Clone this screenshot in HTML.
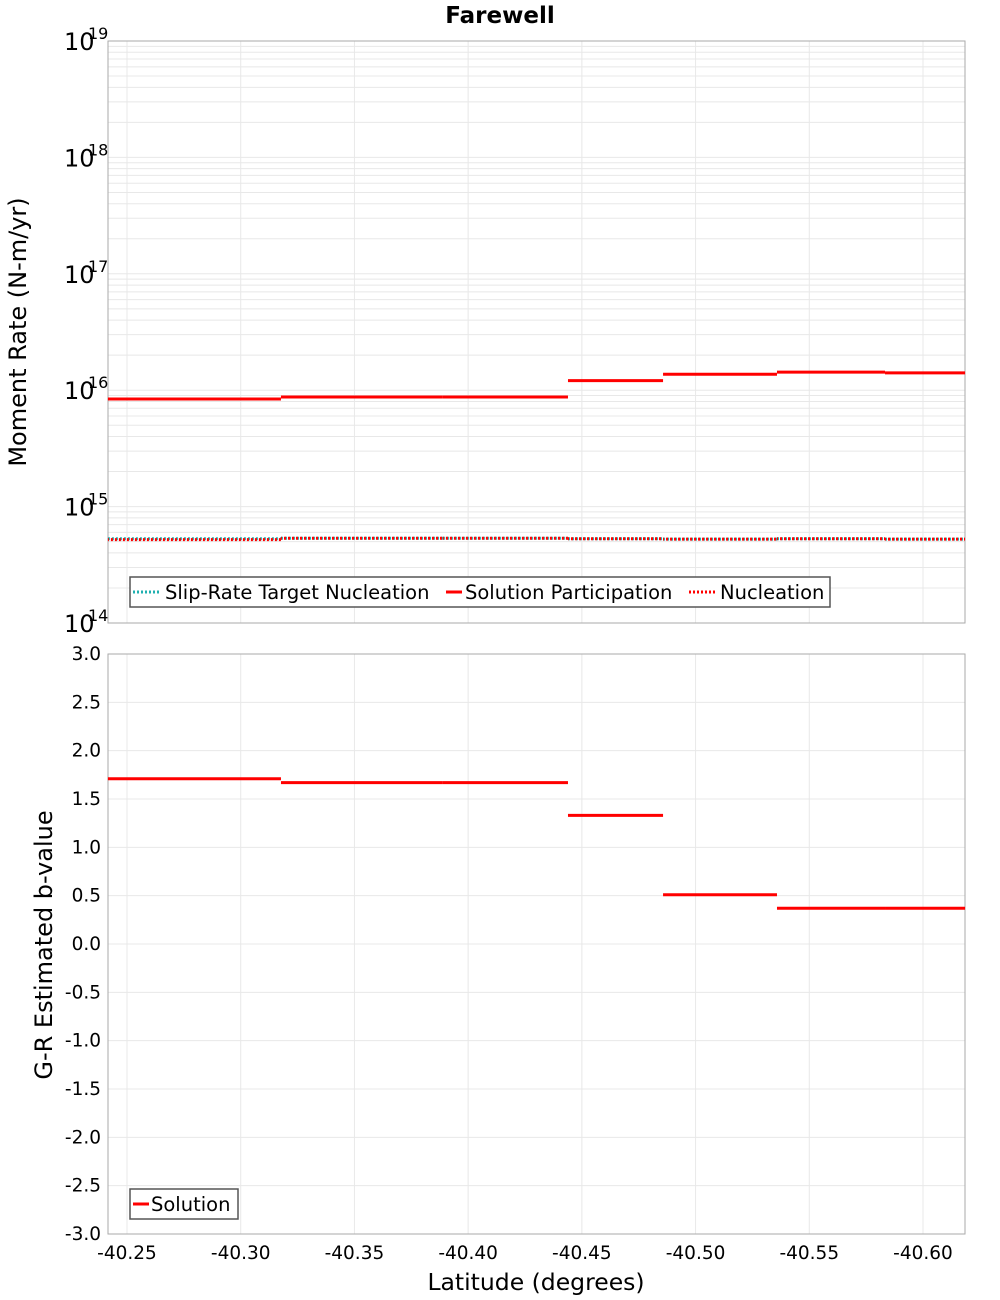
<!DOCTYPE html>
<html><head><meta charset="utf-8"><style>
body{margin:0;background:#fff;font-family:"DejaVu Sans","Liberation Sans",sans-serif}
svg{display:block}
</style></head><body>
<svg id="c" width="1000" height="1300" xmlns="http://www.w3.org/2000/svg">
<text x="500" y="23" text-anchor="middle" font-size="23" font-weight="bold">Farewell</text>
</svg>
<script>
const binEdges=[-40.2416,-40.3177,-40.3889,-40.4439,-40.4857,-40.5358,-40.5833,-40.6185];
const solutionParticipation=[8.4e15,8.75e15,8.75e15,1.21e16,1.37e16,1.43e16,1.41e16];
const nucleation=[5.2e14,5.35e14,5.35e14,5.3e14,5.25e14,5.3e14,5.25e14];
const targetNucleation=[5.3e14,5.35e14,5.35e14,5.3e14,5.25e14,5.3e14,5.25e14];
const bValues=[1.71,1.67,1.67,1.33,0.51,0.37,0.37];
const xTicks=[-40.25,-40.30,-40.35,-40.40,-40.45,-40.50,-40.55,-40.60];
const bTicks=[3,2.5,2,1.5,1,0.5,0,-0.5,-1,-1.5,-2,-2.5,-3];
const logTicks=[14,15,16,17,18,19];

const svg=document.getElementById('c');const NS='http://www.w3.org/2000/svg';
function mk(t,a,p,name){const e=document.createElementNS(NS,t);for(const k in a)e.setAttribute(k,a[k]);


(p||svg).appendChild(e);return e;}
const L=108,R=965;
const xs=v=>127+(-40.25-v)/0.05*113.714;
const T1=41,B1=623;const ys1=v=>T1+(19-Math.log10(v))*(B1-T1)/5;
const T2=654,B2=1234;const ys2=v=>T2+(3-v)*(B2-T2)/6;
for(let d=14;d<19;d++)for(let m=1;m<10;m++){const y=ys1(m*Math.pow(10,d));mk('line',{x1:L,x2:R,y1:y,y2:y,stroke:'#e8e8e8','stroke-width':1},null,'log-grid-line');}
bTicks.forEach(v=>{const y=ys2(v);mk('line',{x1:L,x2:R,y1:y,y2:y,stroke:'#e8e8e8'},null,'b-grid-line');
const t=mk('text',{x:101,y:y+6,'text-anchor':'end','font-size':18.5},null,'b-tick-label');t.textContent=v.toFixed(1);});
xTicks.forEach(v=>{const x=xs(v);[[T1,B1],[T2,B2]].forEach(p=>mk('line',{x1:x,x2:x,y1:p[0],y2:p[1],stroke:'#e8e8e8'},null,'x-grid-line'));
const t=mk('text',{x:x,y:1259,'text-anchor':'middle','font-size':18.5},null,'x-tick-label');t.textContent=v.toFixed(2);});
logTicks.forEach(d=>{const y=ys1(Math.pow(10,d));const t=mk('text',{x:64,y:y+9,'font-size':24},null,'log-tick-label');t.textContent='10';
const s=mk('text',{x:88,y:y-2,'font-size':16},null,'log-tick-exponent');s.textContent=d;});
mk('rect',{x:L,y:T1,width:R-L,height:B1-T1,fill:'none',stroke:'#aaa'},null,'top-plot-frame');
mk('rect',{x:L,y:T2,width:R-L,height:B2-T2,fill:'none',stroke:'#aaa'},null,'bottom-plot-frame');
function steps(vals,ys,attrs,name){vals.forEach((v,i)=>{const y=ys(v);mk('line',Object.assign({x1:xs(binEdges[i]),x2:xs(binEdges[i+1]),y1:y,y2:y},attrs),null,name);});}
steps(targetNucleation,ys1,{stroke:'#20b0b0','stroke-width':3,'stroke-dasharray':'2,2'},'target-nucleation-segment');
steps(nucleation,ys1,{stroke:'#ff0000','stroke-width':3,'stroke-dasharray':'2,2','stroke-dashoffset':1},'nucleation-segment');
steps(solutionParticipation,ys1,{stroke:'#ff0000','stroke-width':3},'solution-participation-segment');
steps(bValues,ys2,{stroke:'#ff0000','stroke-width':3},'b-value-segment');
let t=mk('text',{x:0,y:0,'font-size':24,'text-anchor':'middle',transform:'translate(26,332) rotate(-90)'},null,'y-axis-title-moment');t.textContent='Moment Rate (N-m/yr)';
t=mk('text',{x:0,y:0,'font-size':24,'text-anchor':'middle',transform:'translate(52,945) rotate(-90)'},null,'y-axis-title-b');t.textContent='G-R Estimated b-value';
t=mk('text',{x:536,y:1290,'font-size':23.5,'text-anchor':'middle'},null,'x-axis-title');t.textContent='Latitude (degrees)';
const g1=mk('g',{},null,'top-legend');
mk('rect',{x:130,y:577,width:700,height:30,fill:'#fff',stroke:'#555','stroke-width':1.5},g1,'top-legend-box');
mk('line',{x1:133,x2:161,y1:592,y2:592,stroke:'#20b0b0','stroke-width':3,'stroke-dasharray':'2,2'},g1,'legend-swatch-target');
t=mk('text',{x:165,y:599,'font-size':19.5},g1,'legend-entry-target');t.textContent='Slip-Rate Target Nucleation';
mk('line',{x1:446,x2:462,y1:592,y2:592,stroke:'#f00','stroke-width':3},g1,'legend-swatch-solution');
t=mk('text',{x:465,y:599,'font-size':19.5},g1,'legend-entry-solution');t.textContent='Solution Participation';
mk('line',{x1:689,x2:716,y1:592,y2:592,stroke:'#f00','stroke-width':3,'stroke-dasharray':'2,2'},g1,'legend-swatch-nucleation');
t=mk('text',{x:720,y:599,'font-size':19.5},g1,'legend-entry-nucleation');t.textContent='Nucleation';
const g2=mk('g',{},null,'bottom-legend');
mk('rect',{x:130,y:1189,width:108,height:30,fill:'#fff',stroke:'#555','stroke-width':1.5},g2,'bottom-legend-box');
mk('line',{x1:133,x2:149,y1:1204,y2:1204,stroke:'#f00','stroke-width':3},g2,'legend-swatch-b');
t=mk('text',{x:151,y:1211,'font-size':19.5},g2,'legend-entry-b');t.textContent='Solution';
</script>
</body></html>
